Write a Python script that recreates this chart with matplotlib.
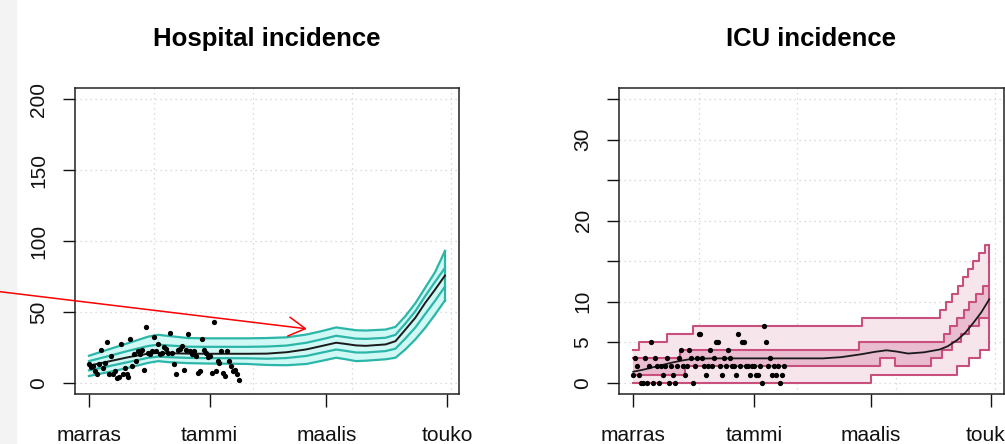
import numpy as np
import matplotlib
matplotlib.use("Agg")
import matplotlib.pyplot as plt
from matplotlib.patches import Rectangle

plt.rcParams['font.family'] = ['Liberation Sans', 'DejaVu Sans']

# Day numbers are counted from 1 November 2020
month_labels = ["marras", "tammi", "maalis", "touko"]
month_days = [0, 61, 120, 181]
grid_days = [33, 83, 133, 183]

# Observed daily counts (1 Nov onwards)
hosp_counts = [13, 11, 12, 8, 6, 13, 23, 10, 14, 29,
               6, 19, 6, 8, 3, 4, 27, 6, 10, 6,
               4, 31, 12, 20, 15, 22, 20, 23, 9, 39,
               21, 20, 22, 32, 22, 27, 20, 21, 25, 24,
               21, 35, 21, 13, 6, 23, 24, 26, 9, 23,
               34, 22, 20, 22, 19, 7, 8, 31, 23, 21,
               18, 19, 7, 43, 8, 15, 14, 22, 7, 5,
               22, 15, 12, 8, 9, 6, 2]
icu_counts = [1, 3, 2, 1, 0, 0, 3, 0, 2, 5,
              0, 3, 2, 0, 2, 1, 2, 3, 0, 2,
              1, 0, 2, 3, 4, 2, 1, 2, 4, 3,
              0, 2, 3, 6, 6, 3, 2, 1, 2, 4,
              2, 3, 5, 5, 2, 1, 3, 2, 4, 3,
              2, 2, 1, 6, 2, 5, 5, 2, 2, 1,
              2, 2, 1, 1, 2, 0, 7, 5, 2, 3,
              1, 2, 1, 2, 0, 1, 2]

# Hospital forecast: median with 50 % and 95 % bands
hosp_band_days = [0, 10, 20, 30, 35, 40, 50, 60, 70, 80, 90, 100, 110, 118,
                  125, 130, 135, 140, 150, 155, 160, 165, 170, 175, 180]
hosp_hi95 = [19, 23.5, 28, 32.5, 33.8, 33, 31.5, 31.3, 31.3, 31.3, 31.5, 32, 34, 36.5,
             39, 38, 37, 36.8, 37.5, 39.4, 47, 56, 67, 78, 93]
hosp_hi50 = [15.2, 18.8, 22.5, 25.9, 26.8, 26.3, 25.4, 25.3, 25.3, 25.3, 25.5, 26.2, 28.2, 30.7,
             33.1, 32.1, 31.1, 30.9, 31.7, 33.8, 41.8, 50.4, 61.1, 71.2, 81]
hosp_median = [12, 15, 18, 20.5, 21, 20.8, 20.5, 20.4, 20.4, 20.4, 20.5, 21.5, 23.5, 26,
               28.2, 27.3, 26.3, 26, 27, 29.3, 37.5, 45.8, 56.3, 65.7, 75.6]
hosp_lo50 = [8.7, 11.6, 14.6, 17.6, 18.4, 18, 17.5, 17.3, 17.3, 17.2, 16.9, 17.4, 18.9, 21.3,
             23.4, 22.4, 21.3, 21.3, 22.3, 24, 31.2, 38.9, 48.4, 57.8, 67.8]
hosp_lo95 = [4.7, 7.5, 10.5, 14, 15.2, 14.5, 13.8, 13.5, 13.4, 13.2, 12.5, 12.3, 13.2, 15.5,
             17.6, 16.5, 15.2, 15.5, 16.5, 17.6, 23.5, 30.5, 38.7, 48.1, 58]

# ICU forecast: quantile bands change in whole patients (change day, new value)
icu_hi95_days = [0, 3, 17, 30, 115.5, 155, 158, 161, 164, 166.5, 169, 172, 175, 178]
icu_hi95 = [4, 5, 6, 7, 8, 9, 10, 11, 12, 13, 14, 15, 16, 17]
icu_hi50_days = [0, 23.5, 114, 157, 160, 163.5, 167, 170, 173.5, 177]
icu_hi50 = [3, 4, 5, 6, 7, 8, 9, 10, 11, 12]
icu_lo50_days = [0, 26, 125, 132.5, 150.5, 156, 161, 165.5, 170, 175]
icu_lo50 = [1, 2, 3, 2, 3, 4, 5, 6, 7, 8]
icu_lo95_days = [0, 120, 163.5, 170, 175.5]
icu_lo95 = [0, 1, 2, 3, 4]
icu_median_days = [0, 5, 10, 15, 20, 25, 30, 40, 60, 80, 96, 105, 115, 122, 128,
                   133, 139, 147, 155, 159, 164, 168, 172, 176, 180]
icu_median = [1.35, 1.6, 1.9, 2.2, 2.5, 2.75, 2.95, 3.0, 3.0, 3.0, 3.0, 3.15, 3.5, 3.8, 4.0,
              3.85, 3.6, 3.75, 4.1, 4.5, 5.3, 6.2, 7.4, 8.7, 10.3]
forecast_end = 180

HOSP_LINE = "#2cb6a9"
HOSP_FILL = "#d0f8f4"
ICU_LINE = "#c94f7c"
ICU_FILL_OUT = "#f7e5ec"
ICU_FILL_IN = "#e9bccf"
TEXT_SIZE = 15


def step_values(change_days, values, grid):
    idx = np.searchsorted(np.asarray(change_days), grid, side="right") - 1
    return np.asarray(values)[idx]


def style_axes(ax, ylim, yticks, ylabels):
    ax.set_xlim(-7.2, 187.2)
    ax.set_ylim(*ylim)
    for v in grid_days:
        ax.axvline(v, color="#d0d0d0", lw=0.9, ls=(0, (1, 3)), zorder=0)
    for v in yticks:
        ax.axhline(v, color="#d0d0d0", lw=0.9, ls=(0, (1, 3)), zorder=0)
    ax.set_xticks(month_days)
    ax.set_xticklabels(month_labels)
    ax.set_yticks(yticks)
    ax.set_yticklabels(ylabels, rotation=90, va="center")
    ax.tick_params(length=9, width=1.0, labelsize=TEXT_SIZE, colors="#111111")
    ax.tick_params(axis="x", pad=14)
    ax.tick_params(axis="y", pad=10)
    for s in ax.spines.values():
        s.set_linewidth(1.1)
        s.set_color("#222222")


fig = plt.figure(figsize=(10.05, 4.44), dpi=100)
fig.add_artist(Rectangle((0, 0), 16 / 1005, 1, transform=fig.transFigure,
                         color="#f3f3f3", zorder=0))

# Hospital panel
ax1 = fig.add_axes([74.7 / 1005, 50 / 444, 384.5 / 1005, 306 / 444])
d = np.asarray(hosp_band_days)
ax1.fill_between(d, hosp_lo95, hosp_hi95, color=HOSP_FILL, lw=0, zorder=1)
for series in (hosp_lo95, hosp_lo50, hosp_hi50, hosp_hi95):
    ax1.plot(d, series, color=HOSP_LINE, lw=1.6, zorder=2)
ax1.plot([forecast_end, forecast_end], [hosp_lo95[-1], hosp_hi95[-1]],
         color=HOSP_LINE, lw=1.6, zorder=2)
ax1.plot(d, hosp_median, color="#1a1a1a", lw=1.4, zorder=3)
ax1.plot(np.arange(len(hosp_counts)), hosp_counts, "o", color="black", ms=3.8,
         mec="none", zorder=4)
style_axes(ax1, (-8, 208), [0, 50, 100, 150, 200], ["0", "50", "100", "150", "200"])
ax1.set_title("Hospital incidence", fontsize=18.5, fontweight="bold", pad=30)

# ICU panel
ax2 = fig.add_axes([619 / 1005, 50 / 444, 384.5 / 1005, 306 / 444])
change_pts = sorted(set(icu_hi95_days + icu_hi50_days + icu_lo50_days + icu_lo95_days))
grid = np.asarray(change_pts + [forecast_end], dtype=float)
hi95 = step_values(icu_hi95_days, icu_hi95, grid)
hi50 = step_values(icu_hi50_days, icu_hi50, grid)
lo50 = step_values(icu_lo50_days, icu_lo50, grid)
lo95 = step_values(icu_lo95_days, icu_lo95, grid)
ax2.fill_between(grid, lo95, hi95, step="post", color=ICU_FILL_OUT, lw=0, zorder=1)
ax2.fill_between(grid, lo50, hi50, step="post", color=ICU_FILL_IN, lw=0, zorder=1)
for series in (lo95, lo50, hi50, hi95):
    ax2.plot(grid, series, drawstyle="steps-post", color=ICU_LINE, lw=1.5, zorder=2)
ax2.plot([forecast_end, forecast_end], [lo95[-1], hi95[-1]], color=ICU_LINE, lw=1.5, zorder=2)
ax2.plot(icu_median_days, icu_median, color="#1a1a1a", lw=1.3, zorder=3)
ax2.plot(np.arange(len(icu_counts)), icu_counts, "o", color="black", ms=3.8,
         mec="none", zorder=4)
style_axes(ax2, (-1.4, 36.4), [0, 5, 10, 15, 20, 25, 30, 35],
           ["0", "5", "10", "", "20", "", "30", ""])
ax2.set_title("ICU incidence", fontsize=18.5, fontweight="bold", pad=30)

# Pointer to the hospital forecast band
ax1.annotate("", xy=(110.2, 38), xycoords="data",
             xytext=(0, 1 - 291.7 / 444), textcoords="figure fraction",
             arrowprops=dict(arrowstyle="->,head_length=1.0,head_width=0.57",
                             mutation_scale=12, color="red", lw=1.1,
                             shrinkA=0, shrinkB=0),
             annotation_clip=False, zorder=6)

fig.savefig("out.png", dpi=100)
